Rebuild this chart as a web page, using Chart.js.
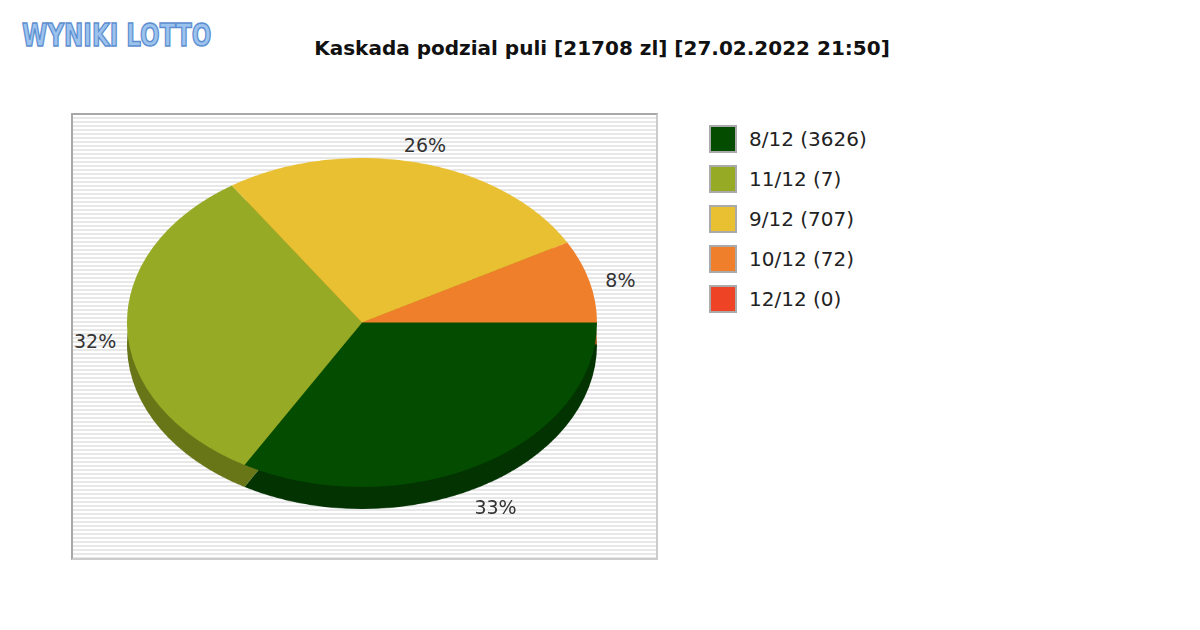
<!DOCTYPE html>
<html><head><meta charset="utf-8">
<script src="https://cdn.jsdelivr.net/npm/chart.js@4"></script>
<style>
body{margin:0;width:1200px;height:630px;background:#fff;font-family:"DejaVu Sans",sans-serif;position:relative;overflow:hidden}
#logo{position:absolute;left:22px;top:16px;font:bold 32px "DejaVu Sans Condensed","DejaVu Sans";color:#9cc3ee;-webkit-text-stroke:1.5px #5d8fd0;letter-spacing:0px;transform:scaleX(0.8);transform-origin:left}
#title{position:absolute;left:0;width:1204px;top:36px;text-align:center;font-weight:bold;font-size:20px;color:#111}
#plot{position:absolute;left:71px;top:113px;width:583px;height:443px;border:2px solid #a8a8a8;border-right-color:#ccc;border-bottom-color:#ccc;background:repeating-linear-gradient(#fff 0 2px,#e8e8e8 2px 4px)}
.pie{position:absolute;left:127px;width:470px;height:470px;transform:scaleY(0.7);transform-origin:top left}
.lbl{position:absolute;font-size:19px;color:#333;transform:translate(-50%,-50%)}
#legend{position:absolute;left:709px;top:119px}
.li{display:flex;align-items:center;height:40px;font-size:20px;color:#222}
.sw{width:24px;height:24px;border:2px solid #aaa;margin-right:12px}
</style></head><body>
<div id="logo">WYNIKI LOTTO</div>
<div id="title">Kaskada podzial puli [21708 zl] [27.02.2022 21:50]</div>
<div id="plot"></div>
<div class="pie" style="top:180px"><canvas id="c2"></canvas></div>
<div class="pie" style="top:158px"><canvas id="c1"></canvas></div>
<div id="legend"></div>
<script>
const categories=["8/12 (3626)","11/12 (7)","9/12 (707)","10/12 (72)","12/12 (0)"];
const percents=[33,32,26,8,0];
const colors=["#044d00","#96aa26","#e9c032","#ef7f2a","#ee4324"];
const sideColors=["#023300","#687618","#a08420","#a85a1c","#a02f19"];
const base={type:'pie',options:{responsive:true,maintainAspectRatio:true,aspectRatio:1,animation:false,rotation:90,
 plugins:{legend:{display:false},tooltip:{enabled:false}},layout:{padding:0}}};
new Chart(document.getElementById('c2'),{...base,data:{labels:categories,datasets:[{data:percents,backgroundColor:sideColors,borderWidth:0}]}});
const ch=new Chart(document.getElementById('c1'),{...base,data:{labels:categories,datasets:[{data:percents,backgroundColor:colors,borderWidth:0}]}});
const meta=ch.getDatasetMeta(0);
meta.data.forEach((a,i)=>{
 if(!percents[i])return;
 const m=(a.startAngle+a.endAngle)/2, r=a.outerRadius+32, s=Math.sin(m);
 let x=127+a.x+Math.cos(m)*r, y=158+(a.y+s*r)*0.7;
 y+= s>0 ? 12+12*s : 4;
 const d=document.createElement('div');d.className='lbl';d.textContent=percents[i]+'%';
 d.style.left=x+'px';d.style.top=y+'px';document.body.appendChild(d);
});
const lg=document.getElementById('legend');
categories.forEach((c,i)=>{lg.innerHTML+=`<div class="li"><div class="sw" style="background:${colors[i]}"></div>${c}</div>`;});
</script>
</body></html>
